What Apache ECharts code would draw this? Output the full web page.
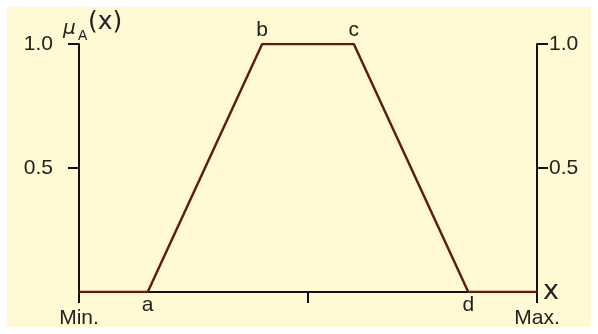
<!DOCTYPE html>
<html>
<head>
<meta charset="utf-8">
<script src="https://cdn.jsdelivr.net/npm/echarts@6/dist/echarts.min.js"></script>
<style>
html,body{margin:0;padding:0;background:#ffffff;}
#chart{width:598px;height:334px;}
</style>
</head>
<body>
<div id="chart"></div>
<script>
// Data
const pointX = [0, 15, 40, 60, 85, 100];
const pointY = [0, 0, 1, 1, 0, 0];
const pointNames = ['', 'a', 'b', 'c', 'd', ''];
const xTickValues = [0, 50, 100];
const xTickLabels = ['Min.', '', 'Max.'];
const yTickValues = [0.5, 1.0];
const yTickLabels = ['0.5', '1.0'];
const yTitleParts = ['μ', 'A', '(x)'];
const xTitle = 'x';

const FONT = '"Liberation Sans", Arial, sans-serif';
const TXT = '#222';

const chart = echarts.init(document.getElementById('chart'), null, {renderer: 'canvas'});

const seriesData = pointX.map((x, i) => ({
  value: [x, pointY[i]],
  label: {
    show: pointNames[i] !== '',
    formatter: pointNames[i],
    position: pointY[i] > 0.5 ? 'top' : 'bottom',
    distance: pointY[i] > 0.5 ? 3 : 2
  }
}));

function yAxisCfg(pos, margin) {
  return {
    type: 'value',
    position: pos,
    min: 0, max: 1,
    axisLine: {show: true, onZero: false, lineStyle: {color: '#111', width: 2}},
    axisTick: {show: true, inside: false, length: 11, customValues: yTickValues,
      lineStyle: {color: '#111', width: 2}},
    axisLabel: {show: true, margin: margin, customValues: yTickValues,
      formatter: v => { const k = yTickValues.indexOf(v); return k >= 0 ? yTickLabels[k] : ''; },
      color: TXT, fontSize: 21, fontFamily: FONT},
    splitLine: {show: false}
  };
}

const option = {
  backgroundColor: '#ffffff',
  animation: false,
  graphic: [
    {type: 'rect', z: -100, shape: {x: 7, y: 7, width: 584, height: 320},
     style: {fill: '#fff9d4'}},
    {type: 'text', x: 63, y: 19, z: 10,
     style: {text: yTitleParts[0], fontSize: 20, fontStyle: 'italic', fill: TXT,
       fontFamily: '"DejaVu Sans", sans-serif'}},
    {type: 'text', x: 78, y: 29, z: 10,
     style: {text: yTitleParts[1], fontSize: 14, fill: TXT, fontFamily: FONT}},
    {type: 'text', x: 88, y: 10, z: 10,
     style: {text: yTitleParts[2], fontSize: 25, fill: TXT,
       fontFamily: '"DejaVu Sans", sans-serif'}}
  ],
  grid: {left: 79, right: 61, top: 44, bottom: 42, containLabel: false},
  xAxis: {
    type: 'value', min: 0, max: 100, interval: 50,
    name: xTitle, nameLocation: 'end', nameGap: 6,
    nameTextStyle: {color: TXT, fontSize: 27, fontFamily: '"DejaVu Sans", sans-serif', verticalAlign: 'middle', padding: [0,0,8,0]},
    axisLine: {show: true, onZero: false, lineStyle: {color: '#111', width: 2}},
    axisTick: {show: true, inside: false, length: 11, customValues: xTickValues,
      lineStyle: {color: '#111', width: 2}},
    axisLabel: {show: true, margin: 16, customValues: [xTickValues[0], xTickValues[2]],
      formatter: v => { const k = xTickValues.indexOf(v); return k >= 0 ? xTickLabels[k] : ''; },
      color: TXT, fontSize: 21, fontFamily: FONT},
    splitLine: {show: false}
  },
  yAxis: [yAxisCfg('left', 26), yAxisCfg('right', 12)],
  series: [{
    type: 'line',
    yAxisIndex: 0,
    data: seriesData,
    symbol: 'circle', symbolSize: 1,
    itemStyle: {color: '#5e1f12'},
    lineStyle: {color: '#5e1f12', width: 2.5},
    label: {color: TXT, fontSize: 21, fontFamily: FONT},
    z: 5
  }]
};
chart.setOption(option);
</script>
</body>
</html>
